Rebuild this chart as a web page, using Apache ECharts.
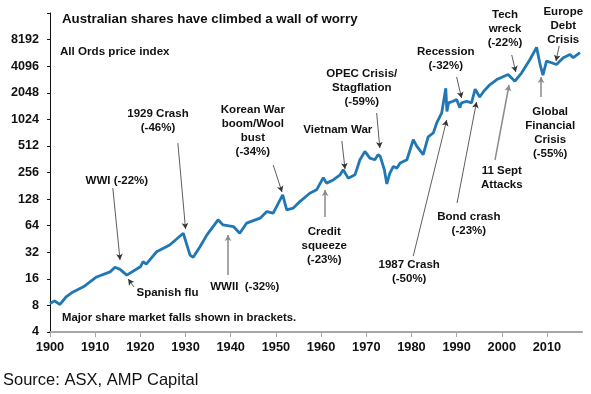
<!DOCTYPE html>
<html>
<head>
<meta charset="utf-8">
<script src="https://cdn.jsdelivr.net/npm/echarts@6/dist/echarts.min.js"></script>
<style>
html,body{margin:0;padding:0;background:#fff;}
#c{width:591px;height:394px;}
</style>
</head>
<body>
<div id="c"></div>
<script>
// ---- Data (All Ords price index) ----
const years = [1900.0,1901.0,1902.2,1903.5,1905.0,1907.4,1910.3,1913.3,1914.4,1915.5,1917.0,1920.0,1920.6,1921.3,1923.6,1926.5,1929.5,1929.7,1931.0,1931.7,1933.2,1934.7,1936.1,1937.2,1938.3,1940.6,1942.0,1943.5,1946.5,1948.0,1949.4,1951.5,1952.4,1953.8,1955.3,1957.5,1959.0,1960.5,1961.2,1962.7,1964.2,1964.9,1966.0,1967.5,1968.6,1969.7,1970.8,1971.9,1972.6,1973.1,1974.0,1974.55,1975.2,1976.0,1976.8,1977.5,1979.0,1980.4,1981.2,1982.6,1983.7,1984.85,1985.6,1986.7,1987.6,1987.85,1988.2,1989.2,1990.0,1990.7,1991.1,1992.2,1993.3,1994.1,1995.1,1996.0,1997.4,1998.9,2001.4,2002.9,2004.4,2006.2,2007.7,2008.4,2009.1,2009.9,2011.0,2012.1,2013.6,2015.1,2015.8,2017.3];
const values = [8.4,9.0,8.2,9.9,11.3,13.0,16.8,19.2,21.6,20.5,17.6,21.9,25.0,23.5,32.4,38.7,52.5,55.0,29.7,28.0,37.0,50.0,62.5,74.5,65.2,62.5,52.5,68.3,77.8,92.4,88.6,143,96.6,101,120,149,163,224,194,211,241,275,221,241,357,444,373,357,407,389,275,190,250,300,287,327,357,602,505,407,650,720,932,1211,2300,1260,1573,1640,1714,1390,1573,1640,1573,2250,1830,2130,2537,2893,3297,2766,3446,4840,6700,4450,3250,4680,4476,4281,5104,5564,5104,5817];

const xTicks = [1900,1910,1920,1930,1940,1950,1960,1970,1980,1990,2000,2010];

// Annotation labels: text, anchor [year, value]
const noteTexts = ['1929 Crash\n(-46%)','Korean War\nboom/Wool\nbust\n(-34%)','WWI (-22%)','Spanish flu','WWII  (-32%)','Vietnam War','OPEC Crisis/\nStagflation\n(-59%)','Credit\nsqueeze\n(-23%)','Recession\n(-32%)','Tech\nwreck\n(-22%)','Europe\nDebt\nCrisis','Global\nFinancial\nCrisis\n(-55%)','11 Sept\nAttacks','Bond crash\n(-23%)','1987 Crash\n(-50%)'];
const noteYears  = [1923.9,1944.9,1914.8,1926.0,1943.1,1963.7,1969.0,1960.7,1987.6,2000.7,2013.6,2010.7,2000.0,1992.7,1979.5];
const noteValues = [993,756,205,11.06,12.9,776,2318,37.9,4900,10936,11796,717,220,66.5,19.1];

// Arrows: tail [year,value] -> tip [year,value]
const arrowFrom = [[1928.3,552],[1949.4,311],[1913.9,171],[1918.6,12.9],[1939.4,17.7],[1964.6,582],[1972.3,1208],[1960.9,80.2],[1990.0,3088],[2002.2,5480],[2012.7,6932],[2008.7,1833],[1998.5,355],[1990.1,115.6],[1980.4,29.0]];
const arrowTo   = [[1930.0,58.7],[1951.35,154],[1915.5,26.2],[1917.3,15.9],[1939.4,50.2],[1965.3,280],[1973.0,485],[1960.9,162],[1991.1,1786],[2003.1,3520],[2012.0,4686],[2008.7,3088],[2001.6,2507],[1994.4,1609],[1987.8,1006]];
const arrowGrey = [false,false,false,false,true,false,false,true,false,false,false,true,true,false,false];

const FONT = '"Liberation Sans", Arial, sans-serif';
const chart = echarts.init(document.getElementById('c'), null, {renderer:'canvas'});

const lineData = years.map((y,i)=>[y, values[i]]);
const notes = noteTexts.map((t,i)=>({name:t, coord:[noteYears[i], noteValues[i]]}));
const arrows = arrowFrom.map((f,i)=>[
  {coord:f, lineStyle:{color: arrowGrey[i] ? '#8a8a8a' : '#333', width: arrowGrey[i] ? 1.5 : 0.8}},
  {coord:arrowTo[i]}
]);

chart.setOption({
  animation:false,
  backgroundColor:'#fff',
  title:[
    {text:'Australian shares have climbed a wall of worry', left:62, top:13, padding:0,
     textStyle:{fontFamily:FONT, fontWeight:'bold', fontSize:13.3, color:'#111'}},
    {text:'All Ords price index', left:60, top:46, padding:0,
     textStyle:{fontFamily:FONT, fontWeight:'bold', fontSize:11.6, color:'#111'}},
    {text:'Major share market falls shown in brackets.', left:62, top:312, padding:0,
     textStyle:{fontFamily:FONT, fontWeight:'bold', fontSize:11.3, color:'#111'}},
    {text:'Source: ASX, AMP Capital', left:3, top:372, padding:0,
     textStyle:{fontFamily:FONT, fontWeight:'normal', fontSize:16.5, color:'#111'}}
  ],
  grid:{left:50, right:9, top:13, bottom:62, containLabel:false},
  xAxis:{
    type:'value', min:1900, max:2017.75,
    splitLine:{show:false},
    axisLine:{show:true, lineStyle:{color:'#a6a6a6', width:2}},
    axisTick:{show:true, customValues:xTicks, length:5, lineStyle:{color:'#a6a6a6', width:1}},
    axisLabel:{customValues:xTicks, margin:9, fontFamily:FONT, fontWeight:'bold', fontSize:12.8, color:'#111',
      formatter:v=>String(v)}
  },
  yAxis:{
    type:'log', logBase:2, min:4, max:16384, interval:1,
    splitLine:{show:false},
    axisLine:{show:true, lineStyle:{color:'#111', width:1}},
    axisTick:{show:true, length:3, lineStyle:{color:'#111'}},
    axisLabel:{margin:11, fontFamily:FONT, fontWeight:'bold', fontSize:12.6, color:'#111',
      formatter:v=> (Math.round(v) >= 16384 ? '' : String(Math.round(v)))}
  },
  series:[{
    type:'line', data:lineData, showSymbol:false, symbol:'none',
    lineStyle:{color:'#1f77b4', width:2.8}, z:3,
    markPoint:{
      symbol:'circle', symbolSize:1, silent:true,
      itemStyle:{color:'transparent'},
      label:{show:true, position:'inside', formatter:p=>p.name,
        fontFamily:FONT, fontWeight:'bold', fontSize:11.5, lineHeight:14, color:'#111', align:'center'},
      data:notes
    },
    markLine:{
      silent:true, symbol:['none','arrow'], symbolSize:[5,6],
      label:{show:false},
      lineStyle:{type:'solid', color:'#333', width:0.8},
      itemStyle:{color:'#111'},
      data:arrows
    }
  }]
});
</script>
</body>
</html>
